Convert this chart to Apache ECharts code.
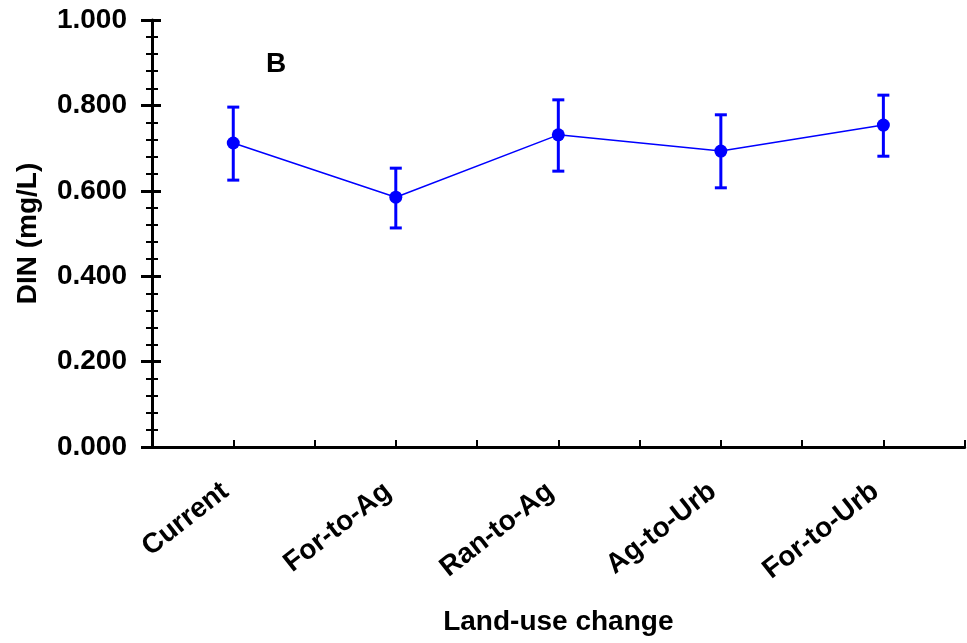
<!DOCTYPE html>
<html>
<head>
<meta charset="utf-8">
<script src="https://cdn.jsdelivr.net/npm/echarts@6/dist/echarts.min.js"></script>
<style>
  html, body { margin: 0; padding: 0; background: #fff; }
  #chart { width: 967px; height: 643px; }
</style>
</head>
<body>
<div id="chart"></div>
<script>
// Dissolved inorganic nitrogen under land-use change scenarios
var categories = ['Current', 'For-to-Ag', 'Ran-to-Ag', 'Ag-to-Urb', 'For-to-Urb'];
var meanDIN = [0.712, 0.585, 0.731, 0.693, 0.754];
var upperDIN = [0.796, 0.653, 0.813, 0.778, 0.824];
var lowerDIN = [0.625, 0.513, 0.646, 0.607, 0.681];
var yTicks = [0, 0.2, 0.4, 0.6, 0.8, 1.0];

// Each category sits on an odd slot of a 0..10 axis, so ticks fall at
// category centres and at the boundaries between them.
function slot(i) { return 2 * i + 1; }

var FONT = 'Liberation Sans, Arial, sans-serif';
var BLUE = '#0000ff';
var FS = 28;

var lineData = meanDIN.map(function (v, i) { return [slot(i), v]; });
var barData = meanDIN.map(function (v, i) { return [slot(i), lowerDIN[i], upperDIN[i]]; });

var chart = echarts.init(document.getElementById('chart'), null, { renderer: 'canvas' });

var yCommon = {
  type: 'value', min: yTicks[0], max: yTicks[yTicks.length - 1], interval: 0.2,
  splitLine: { show: false }
};

chart.setOption({
  animation: false,
  backgroundColor: '#ffffff',
  grid: { left: 152, right: -7, top: 20, bottom: 196, containLabel: false },
  xAxis: {
    type: 'value', min: 0, max: 10, interval: 1,
    axisLine: { lineStyle: { color: '#000', width: 3 } },
    axisTick: { inside: true, length: 7, lineStyle: { color: '#000', width: 2 } },
    splitLine: { show: false },
    axisLabel: {
      rotate: 38, margin: 35, padding: [0, 10, 0, 0],
      fontFamily: FONT, fontWeight: 'bold', fontSize: FS, color: '#000',
      showMinLabel: true, showMaxLabel: true,
      formatter: function (v) {
        return (v % 2 === 1) ? categories[(v - 1) / 2] : '';
      }
    },
    name: 'Land-use change', nameLocation: 'middle', nameGap: 161,
    nameTextStyle: { fontFamily: FONT, fontWeight: 'bold', fontSize: FS, color: '#000' }
  },
  yAxis: [
    Object.assign({}, yCommon, {
      position: 'left',
      axisLine: { show: true, lineStyle: { color: '#000', width: 3 } },
      axisTick: { show: true, inside: false, length: 11, lineStyle: { color: '#000', width: 3 } },
      minorTick: { show: true, splitNumber: 5, length: 6, lineStyle: { color: '#000', width: 2 } },
      axisLabel: {
        margin: 25, fontFamily: FONT, fontWeight: 'bold', fontSize: FS, color: '#000',
        formatter: function (v) { return v.toFixed(3); }
      },
      name: 'DIN (mg/L)', nameLocation: 'middle', nameGap: 110,
      nameTextStyle: { fontFamily: FONT, fontWeight: 'bold', fontSize: FS, color: '#000' }
    }),
    // inward halves of the major ticks and the inward minor ticks
    Object.assign({}, yCommon, {
      position: 'left',
      axisLine: { show: false },
      axisTick: { show: true, inside: true, length: 9, lineStyle: { color: '#000', width: 3 } },
      minorTick: { show: true, splitNumber: 5, length: 6, lineStyle: { color: '#000', width: 2 } },
      axisLabel: { show: false }
    })
  ],
  graphic: [{
    type: 'text', left: 266, top: 50,
    style: { text: 'B', fontFamily: FONT, fontWeight: 'bold', fontSize: FS, fill: '#000' }
  }],
  series: [
    {
      type: 'custom',
      name: 'error',
      data: barData,
      z: 3,
      renderItem: function (params, api) {
        var x = api.value(0);
        var lo = api.coord([x, api.value(1)]);
        var hi = api.coord([x, api.value(2)]);
        var half = 6;
        var st = { stroke: BLUE, lineWidth: 3 };
        return {
          type: 'group',
          children: [
            { type: 'line', shape: { x1: lo[0], y1: lo[1], x2: hi[0], y2: hi[1] }, style: st },
            { type: 'line', shape: { x1: hi[0] - half, y1: hi[1], x2: hi[0] + half, y2: hi[1] }, style: st },
            { type: 'line', shape: { x1: lo[0] - half, y1: lo[1], x2: lo[0] + half, y2: lo[1] }, style: st }
          ]
        };
      }
    },
    {
      type: 'line',
      name: 'DIN',
      data: lineData,
      z: 4,
      symbol: 'circle',
      symbolSize: 13,
      lineStyle: { color: BLUE, width: 1.5 },
      itemStyle: { color: BLUE }
    }
  ]
});
</script>
</body>
</html>
